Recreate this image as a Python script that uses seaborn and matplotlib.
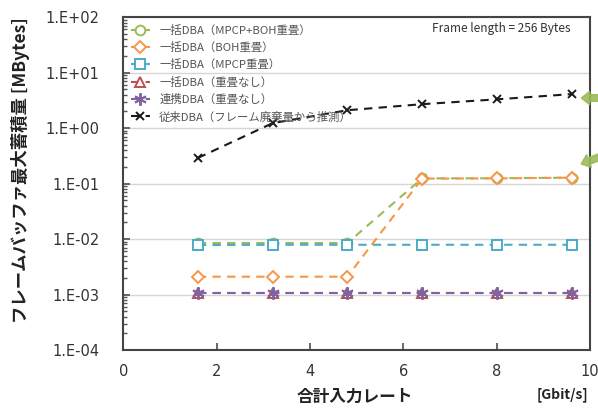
import numpy as np
import pandas as pd
import matplotlib
matplotlib.use('Agg')
import matplotlib.pyplot as plt
from matplotlib.ticker import LogLocator, NullFormatter
import seaborn as sns

# data
rate = [1.6, 3.2, 4.8, 6.4, 8.0, 9.6]
bulk_mpcp_boh = [0.0085, 0.0085, 0.0085, 0.124, 0.125, 0.128]
bulk_boh = [0.0021, 0.0021, 0.0021, 0.123, 0.124, 0.128]
bulk_mpcp = [0.0078, 0.0079, 0.0079, 0.0079, 0.0079, 0.0079]
bulk_none = [0.00108, 0.00108, 0.00108, 0.00108, 0.00108, 0.00108]
coop_none = [0.00108, 0.00108, 0.00108, 0.00108, 0.00108, 0.00108]
conventional = [0.29, 1.23, 2.1, 2.7, 3.3, 4.1]

y_ticks = [1e-4, 1e-3, 1e-2, 1e-1, 1e0, 1e1, 1e2]
y_tick_labels = ["1.E-04", "1.E-03", "1.E-02", "1.E-01", "1.E+00", "1.E+01", "1.E+02"]
x_ticks = [0, 2, 4, 6, 8, 10]

labels = [
    "一括DBA（MPCP+BOH重畳）",
    "一括DBA（BOH重畳）",
    "一括DBA（MPCP重畳）",
    "一括DBA（重畳なし）",
    "連携DBA（重畳なし）",
    "従来DBA（フレーム廃棄量から推測）",
]
series = [bulk_mpcp_boh, bulk_boh, bulk_mpcp, bulk_none, coop_none, conventional]
colors = ["#9BBB59", "#F79646", "#4BACC6", "#C0504D", "#8064A2", "#1a1a1a"]
markers = ["o", "D", "s", "^", (6, 2, 0), "x"]
msizes = [7, 6, 7.5, 7, 9, 6]
hollow = [True, True, True, True, False, False]

sns.set_theme(style="white")
plt.rcParams['font.family'] = ['Noto Sans CJK JP', 'DejaVu Sans']

fig, ax = plt.subplots(figsize=(5.98, 4.08), dpi=100)
fig.subplots_adjust(left=0.206, right=0.987, bottom=0.142, top=0.958)

for vals, lab, col, mk, ms, hol in zip(series, labels, colors, markers, msizes, hollow):
    df = pd.DataFrame({"rate": rate, "value": vals})
    sns.lineplot(data=df, x="rate", y="value", ax=ax, label=lab, color=col,
                 marker=mk, markersize=ms, linestyle=(0, (4, 3)), linewidth=1.5,
                 markerfacecolor="white" if hol else col,
                 markeredgecolor=col, markeredgewidth=1.4)

ax.set_yscale("log")
ax.set_ylim(1e-4, 1e2)
ax.set_xlim(0, 10)
ax.set_xticks(x_ticks)
ax.set_xticklabels([str(v) for v in x_ticks], fontfamily="DejaVu Sans")
ax.set_yticks(y_ticks)
ax.set_yticklabels(y_tick_labels, fontfamily="DejaVu Sans")
ax.yaxis.set_minor_locator(LogLocator(base=10, subs=np.arange(2, 10), numticks=20))
ax.yaxis.set_minor_formatter(NullFormatter())

ax.grid(axis="y", which="major", color="#d6d6d6", linewidth=1)
ax.tick_params(axis="both", which="both", direction="in", colors="#555555",
               labelcolor="#333333", labelsize=10.5, left=True, bottom=True)
ax.tick_params(axis="y", which="major", length=5, pad=17)
ax.tick_params(axis="y", which="minor", length=3)
ax.tick_params(axis="x", which="major", length=5, pad=10)
for sp in ax.spines.values():
    sp.set_color("#444444")
    sp.set_linewidth(1.5)

ax.set_ylabel("フレームバッファ最大蓄積量 [MBytes]", fontsize=12.5, fontweight="bold",
              color="#222222")
ax.yaxis.set_label_coords(-0.2, 0.54)
ax.set_xlabel("合計入力レート", fontsize=12, fontweight="bold", color="#222222")
ax.xaxis.set_label_coords(0.497, -0.112)
ax.text(0.94, -0.135, "[Gbit/s]", transform=ax.transAxes, ha="center", va="center",
        fontsize=10, fontweight="bold", color="#222222")
ax.text(0.958, 0.965, "Frame length = 256 Bytes", transform=ax.transAxes,
        ha="right", va="center", fontsize=8.5, color="#333333")

leg = ax.legend(loc="upper left", bbox_to_anchor=(0.0, 1.0), frameon=False,
                fontsize=8.2, handlelength=1.7, handletextpad=0.8,
                labelspacing=0.55, borderaxespad=0.25)
for t in leg.get_texts():
    t.set_color("#555555")

# green callout arrows at the right edge
for yf in [0.757, 0.556]:
    ax.annotate("", xy=(0.975, yf), xytext=(1.05, yf + (0.0 if yf > 0.7 else 0.04)),
                xycoords="axes fraction", textcoords="axes fraction",
                arrowprops=dict(arrowstyle="simple,head_width=0.8,tail_width=0.4",
                                color="#9BBB59", alpha=0.9),
                annotation_clip=False)

plt.savefig("out.png", dpi=100)
plt.close()
